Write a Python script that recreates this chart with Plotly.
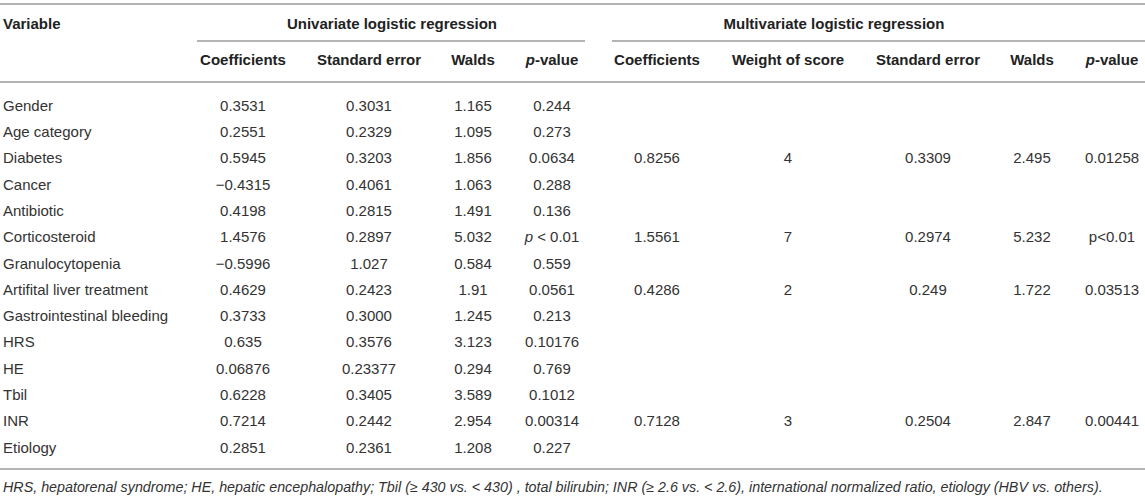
import plotly.graph_objects as go

# Tabla de regresión logística (univariada / multivariada)
variables = ['Gender', 'Age category', 'Diabetes', 'Cancer', 'Antibiotic', 'Corticosteroid',
             'Granulocytopenia', 'Artifital liver treatment', 'Gastrointestinal bleeding',
             'HRS', 'HE', 'Tbil', 'INR', 'Etiology']

uni_coef = ['0.3531', '0.2551', '0.5945', '\u22120.4315', '0.4198', '1.4576', '\u22120.5996',
            '0.4629', '0.3733', '0.635', '0.06876', '0.6228', '0.7214', '0.2851']
uni_se = ['0.3031', '0.2329', '0.3203', '0.4061', '0.2815', '0.2897', '1.027',
          '0.2423', '0.3000', '0.3576', '0.23377', '0.3405', '0.2442', '0.2361']
uni_wald = ['1.165', '1.095', '1.856', '1.063', '1.491', '5.032', '0.584',
            '1.91', '1.245', '3.123', '0.294', '3.589', '2.954', '1.208']
uni_p = ['0.244', '0.273', '0.0634', '0.288', '0.136', '<i>p</i> < 0.01', '0.559',
         '0.0561', '0.213', '0.10176', '0.769', '0.1012', '0.00314', '0.227']

multi_vars = ['Diabetes', 'Corticosteroid', 'Artifital liver treatment', 'INR']
multi_coef = ['0.8256', '1.5561', '0.4286', '0.7128']
multi_weight = ['4', '7', '2', '3']
multi_se = ['0.3309', '0.2974', '0.249', '0.2504']
multi_wald = ['2.495', '5.232', '1.722', '2.847']
multi_p = ['0.01258', 'p<0.01', '0.03513', '0.00441']

uni_headers = ['Coefficients', 'Standard error', 'Walds', '<i>p</i>-value']
multi_headers = ['Coefficients', 'Weight of score', 'Standard error', 'Walds', '<i>p</i>-value']

footnote = ('<i>HRS, hepatorenal syndrome; HE, hepatic encephalopathy; Tbil (\u2265 430 vs. &lt; 430) , '
            'total bilirubin; INR (\u2265 2.6 vs. &lt; 2.6), international normalized ratio, '
            'etiology (HBV vs. others).</i>')

# Layout (pixeles)
W, H = 1145, 498
label_x = 3
uni_x = [243, 369, 473, 552]
multi_x = [657, 788, 928, 1032, 1112]
row0, row_step = 107, 26.3
y_title, y_sub = 25, 61
FONT = 'Liberation Sans, Arial, sans-serif'
TXT = '#333333'
HDR = '#222222'
LINE = '#b4b4b4'

row_y = {v: row0 + i * row_step for i, v in enumerate(variables)}

fig = go.Figure()

def add_col(x, ys, texts, color=TXT, bold=False, pos='middle center', size=15):
    fig.add_trace(go.Scatter(
        x=[x] * len(ys), y=ys, mode='text', text=texts, textposition=pos,
        textfont=dict(family=FONT, size=size, color=color,
                      weight='bold' if bold else 'normal'),
        hoverinfo='skip', showlegend=False))

# columna de variables
add_col(label_x, [row_y[v] for v in variables], variables, pos='middle right')
add_col(label_x, [y_title], ['Variable'], color=HDR, bold=True, pos='middle right')

# univariada
ys = [row_y[v] for v in variables]
for x, col in zip(uni_x, [uni_coef, uni_se, uni_wald, uni_p]):
    add_col(x, ys, col)
for x, h in zip(uni_x, uni_headers):
    add_col(x, [y_sub], [h], color=HDR, bold=True)

# multivariada
ys_m = [row_y[v] for v in multi_vars]
for x, col in zip(multi_x, [multi_coef, multi_weight, multi_se, multi_wald, multi_p]):
    add_col(x, ys_m, col)
for x, h in zip(multi_x, multi_headers):
    add_col(x, [y_sub], [h], color=HDR, bold=True)

add_col(392, [y_title], ['Univariate logistic regression'], color=HDR, bold=True)
add_col(834, [y_title], ['Multivariate logistic regression'], color=HDR, bold=True)

# nota al pie
add_col(label_x, [488], [footnote], pos='middle right', size=14.3)

# reglas horizontales
for x0, x1, y in [(0, W, 4), (197, 585, 41), (612, W, 41), (0, W, 82), (0, W, 469)]:
    fig.add_shape(type='line', x0=x0, x1=x1, y0=y, y1=y, xref='x', yref='y',
                  line=dict(color=LINE, width=2))

fig.update_layout(
    width=W, height=H, margin=dict(l=0, r=0, t=0, b=0),
    plot_bgcolor='white', paper_bgcolor='white',
    xaxis=dict(range=[0, W], visible=False, fixedrange=True),
    yaxis=dict(range=[H, 0], visible=False, fixedrange=True),
)

fig.write_html('out.html', config={'displayModeBar': False},
               post_script="document.body.style.margin='0';document.body.style.overflow='hidden';")
